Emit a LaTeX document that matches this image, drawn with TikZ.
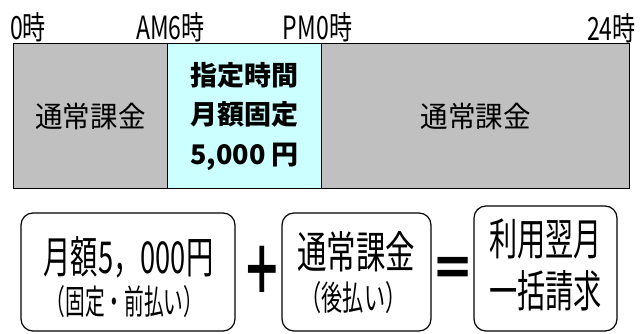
\documentclass[tikz,border=0pt]{standalone}
\usepackage{fontspec}
\setmainfont{Noto Sans CJK JP}
\definecolor{chargegray}{RGB}{192,192,192}
\definecolor{fixedcyan}{RGB}{204,255,255}
\newcommand{\narrow}[2]{\scalebox{#1}[1]{#2}}

\begin{document}
\begin{tikzpicture}[x=1pt,y=-1pt,
	cell/.style={draw=black, line width=1.4pt, anchor=north west, minimum height=145pt, inner sep=0pt},
	hour/.style={inner sep=0pt, font=\fontsize{32}{34}\selectfont},
	sumbox/.style={draw=black, line width=1.2pt, rounded corners=12pt, inner sep=0pt},
	big/.style={inner sep=0pt, font=\fontsize{44}{46}\selectfont},
	small/.style={inner sep=0pt, font=\fontsize{34}{36}\selectfont},
	op/.style={inner sep=0pt, font=\bfseries\fontsize{54}{56}\selectfont}]
	\useasboundingbox (0,0) rectangle (644,334);
	% time bar
	\node[cell, fill=chargegray, minimum width=154.5pt, font=\fontsize{29}{30}\selectfont] (early) at (12.5,43) {\narrow{0.95}{通常課金}};
	\node[cell, fill=fixedcyan, minimum width=154pt, align=center, font=\bfseries\fontsize{27}{39.5}\selectfont] (fixed) at (167,43) {指定時間\\月額固定\\5,000 円};
	\node[cell, fill=chargegray, minimum width=308pt, font=\fontsize{29}{30}\selectfont] (late) at (321,43) {\narrow{0.95}{通常課金}};
	\node[hour, anchor=west] (h0) at (10,27) {\narrow{0.72}{0時}};
	\node[hour] (h6) at (170.5,27) {\narrow{0.72}{AM6時}};
	\node[hour] (h12) at (317.5,27) {\narrow{0.72}{PM0時}};
	\node[hour, anchor=east] (h24) at (636,28) {\narrow{0.72}{24時}};
	% billing
	\node[sumbox, minimum width=214pt, minimum height=118pt] (prepay) at (128,272) {};
	\node[big] (prepay1) at (128.5,257.5) {\narrow{0.62}{月額5，000円}};
	\node[small] (prepay2) at (124.5,301.5) {\narrow{0.58}{（固定・前払い）}};
	\node[op, font=\bfseries\fontsize{66}{68}\selectfont] (plus) at (262,270) {\narrow{0.6}{＋}};
	\node[sumbox, minimum width=149pt, minimum height=118pt] (postpay) at (356.5,272) {};
	\node[big] (postpay1) at (356,251.5) {\narrow{0.67}{通常課金}};
	\node[small] (postpay2) at (353.5,297.5) {\narrow{0.62}{（後払い）}};
	\node[op] (eq) at (453,272.5) {\narrow{0.8}{＝}};
	\node[sumbox, minimum width=143pt, minimum height=125pt] (bill) at (545.5,268.5) {};
	\node[big] (bill1) at (545.5,239) {\narrow{0.64}{利用翌月}};
	\node[big] (bill2) at (545.5,291) {\narrow{0.64}{一括請求}};
\end{tikzpicture}
\end{document}
